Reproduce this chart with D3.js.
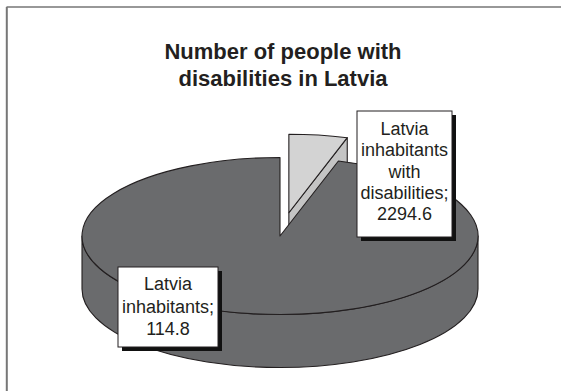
<!DOCTYPE html>
<html><head><meta charset="utf-8">
<script src="https://cdn.jsdelivr.net/npm/d3@7"></script>
<style>body{margin:0;background:#fff}svg{display:block}</style>
</head><body><svg id="c" width="561" height="391"></svg>
<script>
// ---- data ----
const titleLines = ["Number of people with", "disabilities in Latvia"];
const categories = ["Latvia inhabitants with disabilities", "Latvia inhabitants"];
const values = [114.8, 2294.6];
const labelSmall = ["Latvia", "inhabitants", "with", "disabilities;", "2294.6"];
const labelBig = ["Latvia", "inhabitants;", "114.8"];

// ---- layout ----
const svg = d3.select("#c");
const W = 561, H = 391;
const cx = 280, cy = 236, rx = 198, ry = 78.5, depth = 53;
const explode = 0.3;
const topFill = ["#d3d3d3", "#6a6b6d"];
const sideFill = ["#c4c4c4", "#6a6b6d"];
const stroke = "#231f20";
const font = "'Liberation Sans', Arial, sans-serif";

// frame
svg.append("line").attr("x1", 6.5).attr("y1", 7).attr("x2", W).attr("y2", 7).attr("stroke", "#333").attr("stroke-width", 1.2);
svg.append("line").attr("x1", 6.8).attr("y1", 7).attr("x2", 6.8).attr("y2", H).attr("stroke", "#777").attr("stroke-width", 2);

// title
svg.append("text").attr("x", 283).attr("y", 59).attr("text-anchor", "middle")
  .style("font-family", font).style("font-weight", "bold").style("font-size", "22px").attr("fill", stroke)
  .selectAll("tspan").data(titleLines).join("tspan")
  .attr("x", 283).attr("dy", (d, i) => i === 0 ? 0 : 27).text(d => d);

// pie
const pie = d3.pie().sort(null).startAngle(0).endAngle(2 * Math.PI);
const arcs = pie(values.map((v, i) => ({ v, i, name: categories[i] })).map(d => d.v));
const pt = (a, o, dy = 0) => [cx + o[0] + rx * Math.sin(a), cy + o[1] + dy - ry * Math.cos(a)];
const offs = arcs.map((a, i) => {
  if (i !== 0) return [0, 0];
  const m = (a.startAngle + a.endAngle) / 2;
  return [explode * rx * Math.sin(m), -explode * ry * Math.cos(m)];
});

function topPath(a, o) {
  const p0 = pt(a.startAngle, o), p1 = pt(a.endAngle, o);
  const large = a.endAngle - a.startAngle > Math.PI ? 1 : 0;
  return `M${cx + o[0]},${cy + o[1]}L${p0}A${rx},${ry} 0 ${large} 1 ${p1}Z`;
}
function frontSide(a, o) {
  const s = Math.max(a.startAngle, Math.PI / 2), e = Math.min(a.endAngle, 3 * Math.PI / 2);
  if (e <= s) return null;
  const p0 = pt(s, o), p1 = pt(e, o), q1 = pt(e, o, depth), q0 = pt(s, o, depth);
  return `M${p0}A${rx},${ry} 0 0 1 ${p1}L${q1}A${rx},${ry} 0 0 0 ${q0}Z`;
}
function radialFace(ang, o) {
  const c = [cx + o[0], cy + o[1]], p = pt(ang, o);
  return `M${c}L${p}L${p[0]},${p[1] + depth}L${c[0]},${c[1] + depth}Z`;
}

const g = svg.append("g").attr("stroke", stroke).attr("stroke-width", 1.1).attr("stroke-linejoin", "round");
// small exploded slice first (it is behind)
arcs.forEach((a, i) => {
  if (i !== 0) return;
  g.append("path").attr("d", radialFace(a.endAngle, offs[i])).attr("fill", sideFill[i]);
  g.append("path").attr("d", topPath(a, offs[i])).attr("fill", topFill[i]);
});
arcs.forEach((a, i) => {
  if (i === 0) return;
  const s = frontSide(a, offs[i]);
  if (s) g.append("path").attr("d", s).attr("fill", sideFill[i]);
  g.append("path").attr("d", topPath(a, offs[i])).attr("fill", topFill[i]);
});

// labels
function label(lines, x, y, w, h, baseline0, lh) {
  const lg = svg.append("g");
  lg.append("rect").attr("x", x + 4).attr("y", y + 4).attr("width", w).attr("height", h).attr("fill", "#111");
  lg.append("rect").attr("x", x).attr("y", y).attr("width", w).attr("height", h).attr("fill", "#fff")
    .attr("stroke", stroke).attr("stroke-width", 1);
  lg.append("text").attr("text-anchor", "middle").style("font-family", font).style("font-size", "18px").attr("fill", stroke)
    .selectAll("tspan").data(lines).join("tspan")
    .attr("x", x + w / 2).attr("y", (d, i) => baseline0 + i * lh).text(d => d);
}
label(labelSmall, 357, 111, 95, 126, 135, 21.3);
label(labelBig, 118, 267, 100, 80, 290, 22.5);
</script></body></html>
